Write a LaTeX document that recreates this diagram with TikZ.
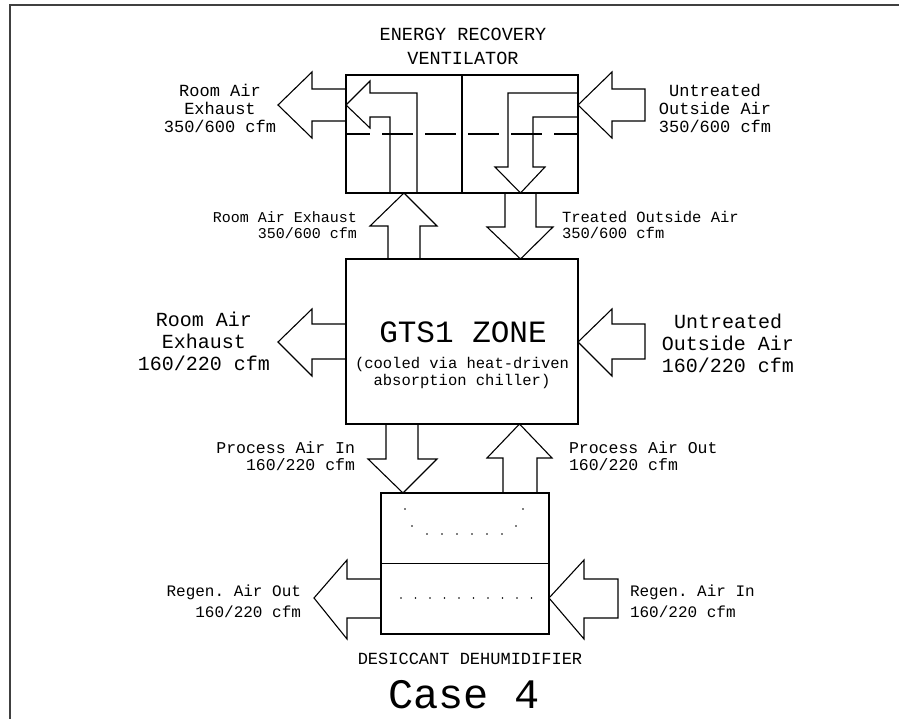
\documentclass[tikz,border=0pt]{standalone}
\usepackage{fontspec}
\newfontfamily\cadfont{Liberation Mono}
\usetikzlibrary{positioning,calc}
\frenchspacing

\begin{document}
\begin{tikzpicture}[x=1pt,y=-1pt,
      every node/.style={inner sep=0pt,outer sep=0pt},
      txt/.style 2 args={font=\cadfont\fontsize{#1}{#2}\selectfont,align=center},
      unit/.style={rectangle,draw,line width=1.1pt},
      blk/.style={draw,line width=1.1pt,line join=miter},
      frame/.style={draw=black!75,line width=2.4pt},
      dot/.style={fill=black},
    ]
    \useasboundingbox (0,0) rectangle (899,719);
    \draw[frame] (10,719) -- (10,5) -- (899,5);

    % --- Units ---
    \node[unit,minimum width=232pt,minimum height=118pt] (erv) at (462,134) {};
    \node[unit,minimum width=232pt,minimum height=165pt] (zone) at (462,341.5) {};
    \node[unit,minimum width=168pt,minimum height=141pt] (dehum) at (465,563.5) {};

    \node[txt={18.5pt}{24pt}] (ervname) at (463,46) {ENERGY RECOVERY\\VENTILATOR};
    \node[txt={31pt}{31pt}] (zonename) at (463,332) {GTS1 ZONE};
    \node[txt={15.5pt}{17pt}] (zonenote) at (462,373) {(cooled via heat-driven\\absorption chiller)};
    \node[txt={17pt}{17pt}] (dehumname) at (470,659) {DESICCANT DEHUMIDIFIER};
    \node[txt={42pt}{42pt}] (casename) at (464,695) {Case 4};

    % --- Energy recovery ventilator inside ---
    \draw[line width=1.1pt] (erv.north) -- (erv.south);
    \draw[line width=1.1pt,dash pattern=on 31pt off 12pt,dash phase=7pt]
      (erv.west) -- (erv.east);
    \draw[blk] (390,193) -- (390,117) -- (370,117) -- (370,128) -- (346,105)
      -- (370,81) -- (370,93) -- (417,93) -- (417,193);
    \draw[blk] (578,93) -- (508,93) -- (508,167) -- (495,167) -- (520.5,193)
      -- (545,167) -- (533,167) -- (533,117) -- (578,117);

    % --- ERV outside air streams ---
    \draw[blk] (346,89) -- (312,89) -- (312,72) -- (278,105) -- (312,138)
      -- (312,121) -- (346,121);
    \draw[blk] (578,105) -- (612,72) -- (612,89) -- (645,89) -- (645,121)
      -- (612,121) -- (612,138) -- cycle;
    \node[txt={17pt}{18pt}] (ervexh) at (220,108) {Room Air\\Exhaust\\350/600 cfm};
    \node[txt={17pt}{18pt}] (ervout) at (715,108) {Untreated\\Outside Air\\350/600 cfm};

    % --- ERV to zone ---
    \draw[blk] (388,259) -- (388,226) -- (370,226) -- (404,193) -- (437,226)
      -- (420,226) -- (420,259);
    \draw[blk] (505,193) -- (505,227) -- (487,227) -- (520.5,259) -- (553,227)
      -- (536,227) -- (536,193);
    \node[txt={15pt}{16pt},anchor=east,align=right] (retlbl) at (357,225)
      {Room Air Exhaust\\350/600 cfm};
    \node[txt={15.5pt}{16pt},anchor=west,align=left] (suplbl) at (562,225)
      {Treated Outside Air\\350/600 cfm};

    % --- Zone outside air streams ---
    \draw[blk] (346,324) -- (312,324) -- (312,309) -- (278,342) -- (312,376)
      -- (312,359) -- (346,359);
    \draw[blk] (578,342) -- (612,309) -- (612,324) -- (645,324) -- (645,359)
      -- (612,359) -- (612,376) -- cycle;
    \node[txt={20pt}{22pt}] (zoneexh) at (204,341) {Room Air\\Exhaust\\160/220 cfm};
    \node[txt={20pt}{22pt}] (zoneout) at (728,343) {Untreated\\Outside Air\\160/220 cfm};

    % --- Zone to dehumidifier ---
    \draw[blk] (386,424) -- (386,459) -- (368,459) -- (403,493) -- (437,459)
      -- (418,459) -- (418,424);
    \draw[blk] (503,493) -- (503,458) -- (487,458) -- (519.5,424) -- (552,458)
      -- (537,458) -- (537,493);
    \node[txt={16.5pt}{17pt},anchor=east,align=right] (prinlbl) at (355,456)
      {Process Air In\\160/220 cfm};
    \node[txt={16.5pt}{17pt},anchor=west,align=left] (proutlbl) at (569,456)
      {Process Air Out\\160/220 cfm};

    % --- Desiccant wheel ---
    \draw[line width=1.1pt] (dehum.west) -- (dehum.east);
    \foreach \p in {(405,509),(523,509),(412,526),(516,526)}
      \fill[dot] \p circle (0.9);
    \foreach \x in {427,442,...,502}
      \fill[dot] (\x,534) circle (0.9);
    \foreach \x in {401,415.5,...,533}
      \fill[dot] (\x,598) circle (0.9);

    % --- Regeneration air ---
    \draw[blk] (381,579) -- (347,579) -- (347,560) -- (314,598) -- (347,639)
      -- (347,618) -- (381,618);
    \draw[blk] (549,598) -- (584,560) -- (584,579) -- (618,579) -- (618,618)
      -- (584,618) -- (584,639) -- cycle;
    \node[txt={16pt}{21pt},anchor=east,align=right] (regoutlbl) at (301,601)
      {Regen. Air Out\\160/220 cfm};
    \node[txt={16pt}{21pt},anchor=west,align=left] (reginlbl) at (630,601)
      {Regen. Air In\\160/220 cfm};

  \end{tikzpicture}
\end{document}
